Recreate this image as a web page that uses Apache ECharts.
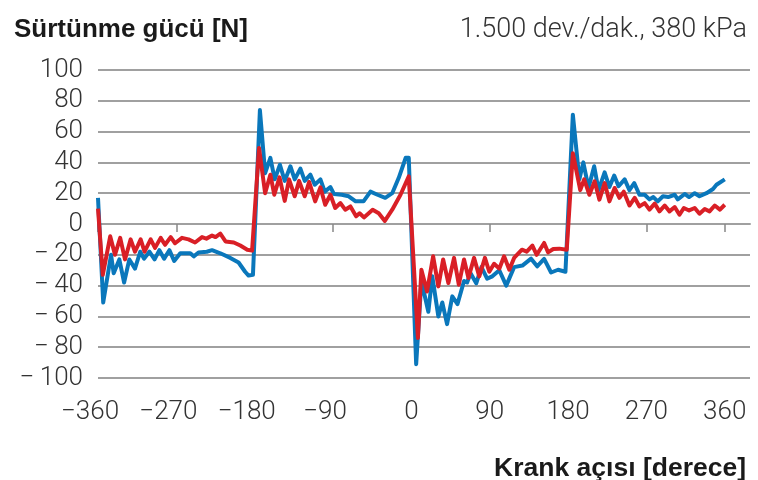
<!DOCTYPE html>
<html>
<head>
<meta charset="utf-8">
<script src="https://cdn.jsdelivr.net/npm/echarts@6/dist/echarts.min.js"></script>
<style>
html,body{margin:0;padding:0;background:#fff;}
#chart{width:758px;height:480px;}
</style>
</head>
<body>
<div id="chart"></div>
<script>
// ---- data ----
var titleLeft = 'Sürtünme gücü [N]';
var titleRight = '1.500 dev./dak., 380 kPa';
var xAxisName = 'Krank açısı [derece]';
var xTicks = [-360, -270, -180, -90, 0, 90, 180, 270, 360];
var yTicks = [-100, -80, -60, -40, -20, 0, 20, 40, 60, 80, 100];

var blueAngle = [-360,-354,-345,-342,-335.5,-330,-324,-317.5,-311.5,-307,-301,-295,-289.5,-284,-278,-272.5,-265.5,-254,-250,-244.5,-235,-229,-219.5,-208,-198.5,-191,-187,-182,
  -174,-168,-162,-157,-151,-145.5,-139,-134,-127.5,-122.5,-116,-111,-104.5,-99.5,-93,-89,-80,-72,-64,-55,-47,-39,-30,-22,-14.5,-6.5,-3,
  5.5,11.5,19.5,24,31,35.5,41,47,53,60.5,64,68,74.5,80.5,87,93,101,109,118,127.5,137.5,144.5,152.5,160.5,168.5,177,
  185.5,193,197.5,203.5,210,215,222,227.5,233,238,245,250.5,256,262,268,273.5,278,283,289,295,302.5,306,314,319,325.5,331,339,346.5,350.5,360];
var blueForce = [17,-51,-20,-32,-23,-38,-23,-29,-18,-22.5,-18,-23,-17,-22.5,-17,-24,-19,-19,-21,-18.5,-18,-17,-19,-22,-25,-31,-33.5,-33,
  74,33,43,29,38.5,28,37.5,29,36,28,32,25.5,29,21,24,19.5,19,18,14.7,14.7,21,19,17,20,30,43,43,
  -91,-37,-57,-34,-60,-51,-65,-47,-52,-37,-38,-32,-38.5,-28,-35.5,-34,-30,-40,-28,-27,-22.5,-27.5,-22.7,-31.5,-29.7,-31,
  71,29,40,23.5,37.5,22,33.5,24,31.5,24.5,29,22,26.5,19,19,16,17.5,14.7,18,17.5,19,16,19.5,17.5,20,18,20,22.7,25.5,29];

var redAngle = [-360,-354.5,-346,-340.5,-334.5,-329,-322.5,-317.5,-311,-306.5,-299.5,-294.5,-288,-283,-276.5,-271.5,-263.5,-256,-248.5,-240.5,-235.5,-229,-225,-219.5,-213.5,-204,-196.5,-188.5,-183,
  -175,-168,-162,-157.5,-151.5,-145.5,-140.5,-134,-129,-122.5,-117.5,-110.5,-104.5,-99,-93,-87.5,-81.5,-76,-70,-63.5,-59.5,-54.5,-44.5,-37.5,-30.5,-22,-12.5,-3,
  7.5,11.5,18,25,31,36.5,42.5,49,54.5,60.5,65.5,72,78,84.5,89.5,95,101,106.5,112.5,118,127,132.5,139,144,152.5,157,163,170,178.5,
  185.5,194,198.5,204.5,210.5,216,222,227.5,233.5,239,244,250.5,256.5,262,268,273.5,279.5,285,291,296.5,302.5,308,313,319,325.5,331,337,342.5,348.5,354.5,360];
var redForce = [10,-33,-8,-20,-9,-23,-10,-18,-10,-18,-10,-15.5,-9,-13.5,-8.5,-12.5,-9,-10,-12,-8.5,-9.5,-7.5,-8.5,-6.3,-11.3,-12,-14,-16.7,-17.3,
  49.4,20,32,19,30.3,15,29,18,28,18,27.3,14.7,23.8,12.5,19,10.4,13.6,9.3,11.4,5,7,4.3,9.3,7,2,9.3,19,31,
  -74,-29.7,-43.8,-21,-40.5,-23,-38.3,-22,-39.4,-23,-35,-22,-34,-22,-31,-25.8,-29,-21,-29.7,-22,-16.7,-18,-14,-20,-12.3,-18.4,-16.2,-16,-16.7,
  46,22,29,19,27.7,15.8,26.6,14.7,23.4,17,21,12,17,11.4,13.6,9.3,13.2,8.2,12,8.2,11,6,10.4,8.8,10.4,6.7,9.7,8.2,12,9.3,12.5];

function pairs(xs, ys){ var o=[]; for(var i=0;i<xs.length;i++){o.push([xs[i], ys[i]]);} return o; }
function fmtNum(v, space){ if(v<0){ return '\u2212' + (space?'\u2009':'') + Math.abs(v); } return String(v); }

var labelFont = 'Roboto, "Liberation Sans", Arial, sans-serif';
var boldFont = '"Liberation Sans", Arial, sans-serif';
var grid = '#a0a0a0';
var fs = 26;

var chart = echarts.init(document.getElementById('chart'), null, {renderer:'canvas'});
chart.setOption({
  animation: false,
  backgroundColor: '#ffffff',
  title: [
    {text: titleLeft, left: 9, top: 12, textStyle:{fontFamily:boldFont, fontWeight:'bold', fontSize:26, color:'#1a1a1a'}},
    {text: titleRight, right: 6, top: 12, textStyle:{fontFamily:labelFont, fontWeight:300, fontSize:27, color:'#333'}},
    {text: xAxisName, right: 7, top: 450, textStyle:{fontFamily:boldFont, fontWeight:'bold', fontSize:26.5, color:'#1a1a1a'}}
  ],
  grid: {left: 98, right: 8, top: 70, bottom: 102, containLabel: false},
  xAxis: {
    type: 'value', min: -360, max: 389, interval: 90,
    axisLine: {show: true, lineStyle: {color: grid, width: 2}},
    axisTick: {show: true, length: 8, customValues: xTicks, lineStyle: {color: '#888', width: 1.5}},
    splitLine: {show: false},
    axisLabel: {
      customValues: xTicks, margin: 21,
      fontFamily: labelFont, fontWeight: 300, fontSize: fs, color: '#333',
      formatter: function(v){ return v < 0 ? '{n|' + fmtNum(v,false) + '}' : '{p|' + v + '}'; },
      rich: {n: {padding: [0, 16, 0, 0], fontFamily: labelFont, fontWeight: 300, fontSize: fs, color: '#333'},
             p: {fontFamily: labelFont, fontWeight: 300, fontSize: fs, color: '#333'}}
    }
  },
  yAxis: {
    type: 'value', min: -100, max: 100, interval: 20,
    axisLine: {show: false}, axisTick: {show: false},
    splitLine: {show: true, lineStyle: {color: grid, width: 2}},
    axisLabel: {margin: 15, fontFamily: labelFont, fontWeight: 300, fontSize: fs, color: '#333',
      formatter: function(v){ return fmtNum(v, true); }}
  },
  series: [
    {type: 'line', data: pairs(blueAngle, blueForce), showSymbol: false, symbol: 'none',
     lineStyle: {color: '#0a77bb', width: 4, join: 'round'}, z: 2},
    {type: 'line', data: pairs(redAngle, redForce), showSymbol: false, symbol: 'none',
     lineStyle: {color: '#d91f26', width: 4, join: 'round'}, z: 3}
  ]
});
</script>
</body>
</html>
